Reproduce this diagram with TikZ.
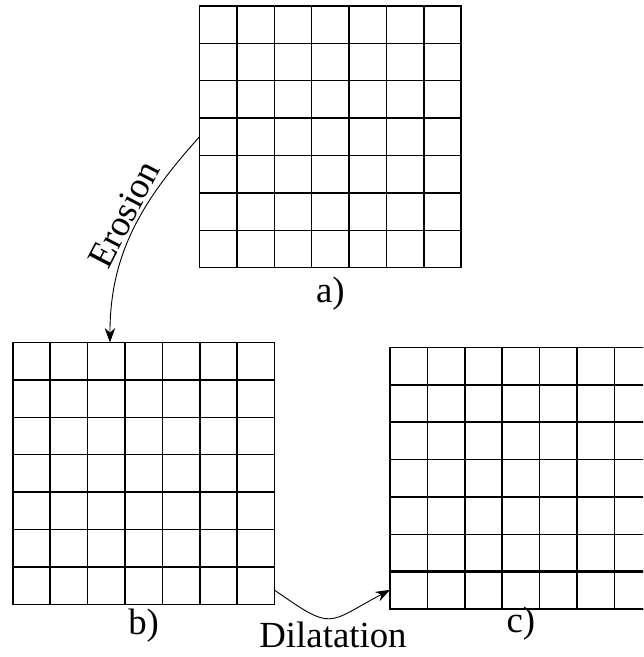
\documentclass[tikz,border=0pt]{standalone}
\usepackage{fontspec}
\setmainfont{Liberation Serif}
\usepackage{tikz}
\usetikzlibrary{arrows.meta,positioning,calc}

\begin{document}
\begin{tikzpicture}[
  board/.style={rectangle, draw, line width=1.2pt, minimum size=7cm, inner sep=0pt, outer sep=0pt},
  lbl/.style={font=\fontsize{28}{32}\selectfont, inner sep=0pt},
  arrow/.style={-{Stealth[length=11pt, width=8pt]}, line width=0.7pt}
]
\useasboundingbox (0,0) rectangle (17.193,17.567);
\clip (0,0) rectangle (17.193,17.567);

% the three 7x7 boards
\node[board, anchor=south west] (ga) at (5.334,10.409) {};
\node[board, anchor=south west] (gb) at (0.340,1.409) {};
\node[board, anchor=south west] (gc) at (10.428,1.276) {};
\draw[line width=1.2pt, shift={(ga.south west)}] (0,0) grid (7,7);
\draw[line width=1.2pt, shift={(gb.south west)}] (0,0) grid (7,7);
\draw[line width=1.2pt, shift={(gc.south west)}] (0,0) grid (7,7);
\draw[line width=2.2pt] ([yshift=1cm]gc.south west) -- ([yshift=1cm]gc.south east);

% labels
\node[lbl, anchor=base] (la) at ([yshift=-0.92cm]ga.south) {a)};
\node[lbl, anchor=base] (lb) at ([yshift=-0.82cm]gb.south) {b)};
\node[lbl, anchor=base] (lc) at ([yshift=-0.63cm]gc.south) {c)};

% operations
\draw[arrow] (ga.west) to[out=228, in=90]
  node[lbl, sloped, above=2pt, pos=0.45] (ero) {Erosion} ([xshift=-0.9cm]gb.north);
\coordinate (dstart) at ([yshift=0.38cm]gb.south east);
\coordinate (dend) at ([yshift=0.52cm]gc.south west);
\draw[arrow] (dstart) to[out=-35, in=208, looseness=1.6] (dend);
\node[lbl, anchor=base] (dil) at (8.904,0.241) {Dilatation};
\end{tikzpicture}
\end{document}
